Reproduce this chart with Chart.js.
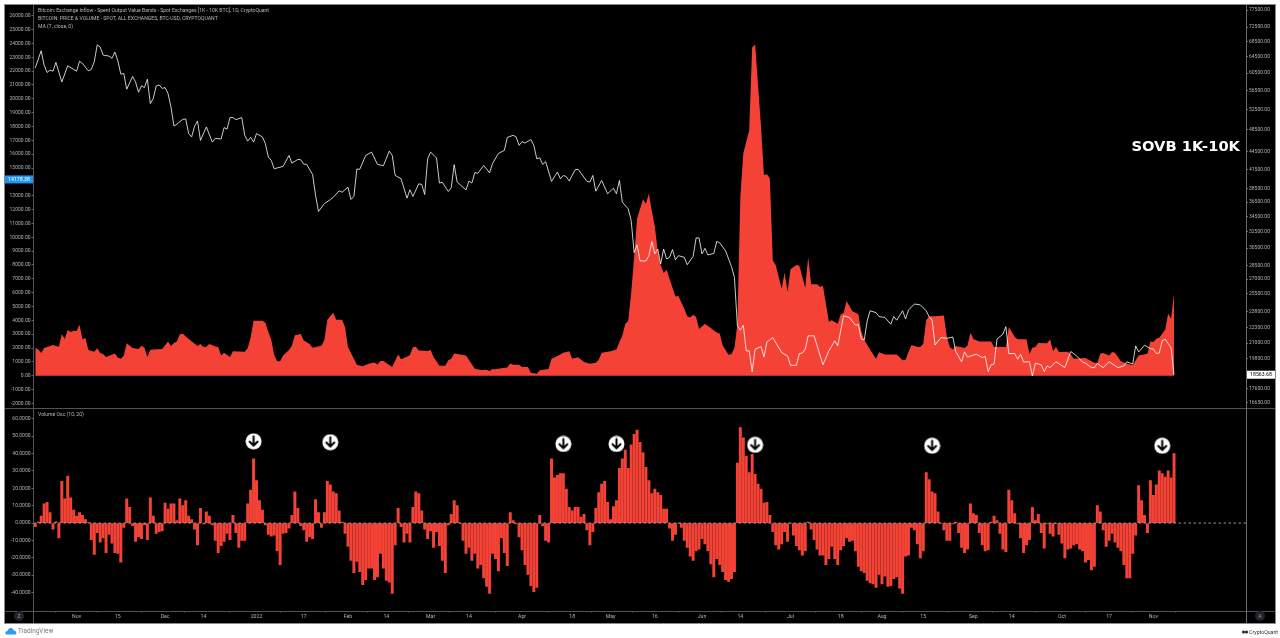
<!DOCTYPE html>
<html>
<head>
<meta charset="utf-8">
<title>SOVB 1K-10K</title>
<script src="https://cdn.jsdelivr.net/npm/chart.js@4"></script>
<style>
  html, body { margin: 0; padding: 0; background: #fff; width: 1280px; height: 638px; overflow: hidden; }
  body { position: relative; font-family: Roboto, sans-serif; }
  #frame { position: absolute; left: 4px; top: 4px; width: 1270px; height: 618px; background: #000; border: 1px solid #8a8a8a; }
  canvas { position: absolute; }
  .rule { position: absolute; background: #50535e; }
  .legend { position: absolute; left: 38px; color: #b8b8b8; font-size: 5.1px; line-height: 7px; white-space: nowrap; }
  #stamp { position: absolute; left: 1120px; width: 120px; top: 137px; text-align: right; color: #fff; font: bold 14.7px "DejaVu Sans", sans-serif; white-space: nowrap; }
  .scaleBtn { position: absolute; width: 10px; height: 10px; top: 611px; border-radius: 50%; background: #23242b; color: #999; font-size: 5px; line-height: 10px; text-align: center; }
  #tv { position: absolute; left: 18px; top: 627px; font-size: 6.4px; line-height: 8px; color: #777; }
  #cq { position: absolute; left: 1249px; top: 628px; font-size: 5.2px; line-height: 8px; color: #333; }
</style>
</head>
<body>
<div id="frame"></div>
<canvas id="pricePane" width="1270" height="404" style="left:5px;top:4px"></canvas>
<canvas id="oscPane" width="1270" height="215" style="left:5px;top:408px"></canvas>
<div class="rule" style="left:5px;top:407.5px;width:1270px;height:1px"></div>
<div class="rule" style="left:5px;top:610.5px;width:1270px;height:1px"></div>
<div class="rule" style="left:33px;top:5px;width:1px;height:618px"></div>
<div class="rule" style="left:1246px;top:5px;width:1px;height:618px;background:#6a6d78"></div>
<div class="legend" style="top:7px">Bitcoin: Exchange Inflow - Spent Output Value Bands - Spot Exchanges [1K - 10K BTC], 1D, CryptoQuant</div>
<div class="legend" style="top:15px">BITCOIN: PRICE &amp; VOLUME - SPOT, ALL EXCHANGES, BTC-USD, CRYPTOQUANT</div>
<div class="legend" style="top:23px">MA (7, close, 0)</div>
<div class="legend" style="top:411px">Volume Osc (10, 20)</div>
<div id="stamp">SOVB 1K-10K</div>
<div class="scaleBtn" style="left:14px">Z</div>
<div class="scaleBtn" style="left:1255px">A</div>
<svg style="position:absolute;left:5px;top:627px" width="12" height="8" viewBox="0 0 12 8"><path d="M1 7.5 C-0.5 5.5 1 4 2.5 4 C3 1.5 5 0.5 6.5 1 C8 1.5 8.5 2.5 8.5 3.5 C10.5 3.2 12 5.5 11 7.5 Z" fill="#2f9bea"/></svg>
<div id="tv">TradingView</div>
<svg style="position:absolute;left:1242px;top:630px" width="6" height="4"><circle cx="1.5" cy="2" r="1.5" fill="#222"/><circle cx="4.5" cy="2" r="1.5" fill="#222"/></svg>
<div id="cq">CryptoQuant</div>

<script>
// day 0 is 18 Oct 2021, every reading below is [day, value] off the picture
const timeTickDays = [14, 28, 44, 57, 75, 91, 106, 119, 134, 147, 165, 182, 195, 210, 226, 239, 256, 273, 287, 301, 318, 331, 348, 364, 379];
const timeTickLabels = ["Nov", "15", "Dec", "14", "2022", "17", "Feb", "14", "Mar", "14", "Apr", "18", "May", "16", "Jun", "14", "Jul", "18", "Aug", "15", "Sep", "14", "Oct", "17", "Nov"];

const inflowTicks = [26000, 25000, 24000, 23000, 22000, 21000, 20000, 19000, 18000, 17000, 16000, 15000, 13000, 12000, 11000, 10000, 9000, 8000, 7000, 6000, 5000, 4000, 3000, 2000, 1000, 0, -1000, -2000];
const priceTicks = [77500, 72500, 68500, 64500, 60500, 56500, 52500, 48500, 44500, 41500, 38500, 36500, 34500, 32500, 30500, 28500, 27000, 25500, 23800, 22300, 21000, 19800, 17600, 16650];
const oscTicks = [60, 50, 40, 30, 20, 10, 0, -10, -20, -30, -40];

const lastInflow = 14178.38;
const lastPrice = 18563.68;

const inflowReadings = [
  [0,2020],[1,1900],[2,1640],[3,2000],[5,2140],[6,2220],[8,2100],[9,3010],[10,2650],[11,3300],[12,3160],[13,3250],[14,3230],[15,3690],
  [16,2630],[17,2720],[18,1860],[20,1740],[21,1980],[22,1640],[23,1570],[24,1350],[27,1610],[28,1300],[29,1230],[30,1450],[31,2340],
  [33,2000],[35,1930],[36,2170],[37,2020],[38,1350],[39,1880],[43,1930],[45,2480],[46,2140],[47,2360],[48,2480],[49,2990],[50,3040],
  [52,2650],[55,2140],[56,2290],[57,2070],[58,2100],[59,2290],[61,2120],[62,2070],[63,1470],[64,1660],[66,1350],[67,1760],[71,1730],
  [72,1980],[73,2750],[74,3980],[77,3980],[78,3830],[79,3160],[80,2600],[81,1500],[82,1040],[83,1040],[84,1470],[86,1860],[87,2190],
  [88,2920],[90,3010],[91,2550],[93,2290],[94,2020],[97,2170],[98,2580],[99,4050],[100,4290],[101,4550],[102,4050],[104,4050],[105,3520],
  [106,2070],[108,1230],[109,800],[111,680],[113,870],[115,960],[116,820],[117,1060],[118,1060],[121,630],[123,1540],[124,1200],[126,1370],
  [127,1490],[128,2050],[129,2100],[130,1830],[133,1780],[134,1860],[135,1350],[137,720],[139,720],[140,1110],[141,1230],[142,1610],
  [146,1470],[149,510],[151,410],[153,430],[154,340],[155,480],[156,460],[158,550],[160,600],[161,890],[162,800],[164,800],[165,630],
  [167,630],[168,220],[170,140],[171,390],[174,480],[175,1230],[177,1420],[179,1660],[181,1760],[182,1230],[184,1330],[186,990],[188,870],
  [190,940],[191,1160],[192,1660],[195,1760],[197,1900],[198,2430],[199,2900],[200,3760],[201,3950],[202,6000],[203,8580],[204,11350],
  [206,12750],[207,12430],[208,13160],[209,11900],[210,10800],[211,9000],[212,8000],[213,7420],[214,7660],[215,7000],[216,6350],[217,5730],
  [218,5760],[220,4840],[221,4300],[222,4200],[223,4410],[224,4240],[225,3370],[227,3760],[231,3130],[232,3050],[233,2200],[235,1520],
  [236,1570],[237,2020],[238,3760],[239,12920],[240,16050],[242,17730],[243,23710],[244,23930],[245,21000],[246,18000],[247,14500],[248,14550],
  [249,14240],[250,8340],[251,7980],[253,6290],[254,7450],[255,6050],[256,7690],[258,8000],[259,7950],[261,6360],[262,8580],[263,6600],
  [265,6600],[266,6430],[267,6480],[268,5200],[269,3900],[270,4000],[272,3760],[273,4430],[274,4530],[275,5400],[277,4650],[279,4450],
  [280,3200],[281,2600],[283,1880],[285,1230],[286,1690],[288,1540],[292,1540],[294,1110],[295,1160],[296,1710],[297,2220],[299,2070],
  [300,2070],[301,2310],[302,4000],[303,4290],[305,4290],[308,4360],[309,2800],[310,2070],[311,1900],[312,2140],[315,2000],[316,2190],
  [317,3110],[318,2650],[320,2480],[324,2480],[325,2070],[329,2070],[330,3520],[332,2800],[333,2630],[336,2630],[337,1590],[338,2020],
  [339,2070],[340,2360],[343,2340],[344,2630],[345,1780],[346,2070],[347,1710],[350,1730],[351,1540],[352,1230],[356,1280],[359,940],
  [360,920],[361,1590],[362,1640],[364,1470],[365,1710],[366,1660],[368,1040],[370,870],[372,750],[374,1470],[377,1590],[378,2480],[379,2430],
  [380,2670],[381,2750],[383,3330],[384,4480],[385,4120],[386,5930]
];

const priceReadings = [
  [0,61780],[2,66060],[3,62450],[4,60680],[5,61230],[6,60990],[7,63120],[9,58470],[11,62280],[14,60990],[15,63370],[16,62860],[18,61060],
  [19,61400],[20,63280],[21,67630],[22,67030],[23,64950],[25,64700],[26,64120],[27,65710],[28,63500],[29,60280],[30,60450],[31,56830],
  [33,59740],[34,58470],[35,56160],[36,57570],[37,57190],[38,59100],[39,53710],[40,54770],[41,57570],[42,57790],[43,57000],[44,57190],
  [45,55870],[46,53010],[47,49200],[48,49530],[50,50500],[51,50570],[52,47750],[53,47130],[54,49140],[55,50170],[56,46500],[58,49010],
  [60,46190],[61,46870],[63,46750],[64,48890],[65,48600],[66,50850],[67,50850],[68,50440],[70,50850],[71,47430],[72,46370],[73,47060],
  [74,46190],[75,47750],[77,47130],[78,45900],[79,43550],[80,42990],[81,41610],[84,41990],[86,43840],[87,42530],[89,43150],[90,43100],
  [91,42370],[92,42320],[94,40690],[95,37500],[96,35200],[98,36310],[100,36850],[101,37210],[103,38160],[104,37950],[106,38710],[107,36890],
  [108,37320],[109,41560],[110,41520],[112,43840],[114,44410],[116,42320],[118,42100],[120,44590],[121,43840],[122,40530],[124,40000],
  [126,37080],[127,38310],[128,37320],[130,39230],[131,39120],[132,37620],[133,43260],[134,44410],[136,43430],[137,39340],[138,39450],
  [140,38060],[141,38610],[142,42280],[143,39500],[146,38300],[147,39650],[148,39340],[149,40990],[150,40870],[152,42150],[154,40940],
  [155,42480],[157,44180],[159,44710],[160,47040],[162,47430],[163,47130],[164,45600],[165,46270],[166,46020],[168,46650],[169,45600],
  [170,43260],[171,43430],[172,42320],[173,42770],[175,39600],[177,41080],[178,40000],[179,40530],[180,40340],[181,39650],[183,41440],
  [184,41520],[187,39600],[188,39500],[189,40530],[190,38110],[192,39740],[194,37730],[196,38550],[197,37730],[198,39740],[199,36490],
  [201,35550],[202,33960],[203,29950],[204,30880],[205,28990],[207,28990],[208,29600],[209,31270],[210,29800],[211,30380],[212,28650],
  [213,30380],[214,29220],[215,29400],[216,30310],[217,29120],[218,29600],[220,29400],[221,28570],[223,29520],[224,31730],[225,31730],
  [226,29800],[227,30460],[228,29680],[230,29860],[231,31300],[232,31130],[234,30150],[236,28350],[237,27180],[238,22480],[239,22100],
  [240,22540],[241,20380],[242,20380],[243,18790],[244,20520],[246,20720],[247,19900],[248,21100],[250,21470],[253,20250],[255,19980],
  [256,19260],[258,19260],[259,20170],[260,20210],[261,20520],[262,21620],[264,21620],[267,19300],[269,20380],[271,21200],[272,20780],
  [274,23380],[276,23230],[278,22540],[279,22600],[280,21350],[281,21270],[282,22930],[283,23850],[285,23680],[286,23320],[288,23230],
  [290,22630],[291,23320],[292,22990],[294,23850],[295,23100],[296,23920],[298,24490],[300,24410],[302,23850],[303,23290],[304,22990],
  [305,20860],[307,21470],[309,21410],[311,21520],[312,20330],[314,19530],[315,20300],[316,19900],[319,20120],[321,19850],[322,19950],
  [323,18790],[324,19300],[325,19350],[326,21350],[328,21760],[329,22410],[330,20170],[332,20170],[333,19720],[334,20120],[335,19510],
  [337,19530],[338,18470],[339,19420],[341,19300],[342,18790],[343,19210],[344,19090],[346,19530],[349,19090],[351,20330],[353,19980],
  [355,19510],[356,19420],[358,19090],[359,19090],[360,19400],[362,19090],[364,19530],[367,19090],[369,19210],[370,19530],[372,19350],
  [373,20780],[374,20300],[376,20840],[378,20560],[379,20520],[380,20170],[381,20210],[382,21200],[383,21350],[385,20610],[386,18560]
];

const oscValues = [
  -2,0.5,4,11,12,6,-3.5,0.7,-8.5,24,14,27,14.5,7.5,4,6,4.5,2,0.3,-9.5,
  -18,-5.5,-11,-8.5,-17,-6.5,-11.5,-17,-17.5,-22.5,-2.5,14,9,-1.5,-10.5,-8,-9,-1,-9.5,14.5,
  4,-6,-5,-4.5,11.5,8,11,11,1.5,14,10,13,4,2,-3.5,-12.5,8.5,-0.5,6.5,4,
  -1,-10,-17,-13,-10.5,-6,-9.5,4.5,-5.5,-14,-10,-10,11,19,37,24.5,13,7.5,-1,-6.5,
  -7.5,-7,-16,-24,-6,-5.5,-3,4.5,18,8.5,-1.5,-4,-10.5,-8,-9,13.5,6,-2.5,6,24,
  22,18,17,7,0.5,-6,-13.5,-21.5,-28.5,-22,-28,-35.5,-32.5,-26,-26,-32.5,-31,-17.5,-26,-33,
  -34,-40.5,-12.5,8.5,-2,-11,-6,-11,9,18,17,7,-3.5,-9,-4.5,-14,-5,-13,-21.5,-28.5,
  -1,5,13,10,0,-10,-17.5,-14,-21.5,-17.5,-26,-24,-31.5,-36.5,-40.5,-17.5,-20.5,-27.5,-8.5,-17,
  -24.5,6,1.5,-0.5,-8,-15.5,-24,-29.5,-36,-39.5,-37,4.5,-1.5,-10,-11,37,26,27.5,28.5,28.5,
  19.5,9,7,9,9,3.5,5,-4,-12.5,-5,8.5,17.5,22.5,24,12,2,9.5,13,31.5,37,
  42,31.5,45,51,53.5,46.5,40.5,32,24.5,17,19.5,17.5,16,8,8,-3,-10,-6.5,0,-2.5,
  -10,-14,-19,-21.5,-16,-15,-9,-12,-16,-23.5,-31,-20.5,-24,-28,-32.5,-33.5,-32,-28,34.5,55,
  49,38.5,29,39.5,28,22.5,19.5,11.5,12,4.5,-5,-12.5,-15,-12,-5,-10.5,0,-7,-13,-15.5,
  -18.5,-16,0.5,-3.5,-9.5,-15,-18.5,-18.5,-24,-20.5,-13.5,-20.5,-24,-15.5,-13,-8.5,-10.5,-10,-16,-25,
  -27.5,-28.5,-33,-34.5,-35,-37,-29.5,-35,-30.5,-36.5,-36,-32,-31,-37.5,-40.5,-19,-18.5,-2.5,-4,-12,
  -20,-16,29,25,18,17,6.5,0,-4,-10,-10,-0.5,0.5,-5.5,-14,-17,-15,11,5.5,4.5,
  -5.5,-12.5,-16,-15.5,0.5,4,1.5,-6,-15,-16.5,19,13,5.5,-0.5,-8.5,-17,-12.5,-9.5,9,1.5,
  5,-5.5,-14.5,-0.5,-6,-7.5,-0.2,-6.5,-11.5,-20,-15,-14.5,-12.5,-12,-15,-16,-22.5,-21,-27,-25,
  10,6.5,-4,-13.5,-10,-6,-11,-14,-16,-24,-31.5,-31.5,-17.5,-7,21.5,13,4.5,-5.5,24.5,16,
  22,30,28.5,26.5,30,26,40
];

// sell signal badges above the oscillator
const arrowDays = [74, 100, 179, 197, 244, 304, 382];
const arrowLevels = [47, 46.5, 45.5, 45.5, 45, 44.5, 44.5];

const RED = "#f44336";
const xMin = -0.6, xMax = 410.4;

function arrowBadge() {
  const c = document.createElement("canvas");
  c.width = 17; c.height = 17;
  const g = c.getContext("2d");
  g.fillStyle = "#fff";
  g.beginPath(); g.arc(8.5, 8.5, 8, 0, Math.PI * 2); g.fill();
  g.strokeStyle = "#000"; g.lineWidth = 2; g.lineCap = "round"; g.lineJoin = "round";
  g.beginPath(); g.moveTo(8.5, 3.5); g.lineTo(8.5, 12.5); g.moveTo(4.5, 8.8); g.lineTo(8.5, 12.8); g.lineTo(12.5, 8.8); g.stroke();
  return c;
}

const valueTags = {
  id: "valueTags",
  afterDraw(chart) {
    const g = chart.ctx;
    const tag = (text, x, w, y, bg, fg) => {
      g.save();
      g.fillStyle = bg;
      g.fillRect(x, y - 4, w, 8);
      g.fillStyle = fg;
      g.font = "5.2px Roboto";
      g.textAlign = "center";
      g.textBaseline = "middle";
      g.fillText(text, x + w / 2, y + 0.3);
      g.restore();
    };
    tag(lastInflow.toFixed(2), 0, 28, chart.scales.yInflow.getPixelForValue(lastInflow), "#2196f3", "#fff");
    tag(lastPrice.toFixed(2), chart.chartArea.right + 1, 28, chart.scales.yPrice.getPixelForValue(lastPrice), "#fff", "#000");
  }
};

const axisTicks = { color: "#b4b4b4", font: { family: "Roboto", size: 5 }, autoSkip: false, padding: 1 };
const axisGrid = { drawOnChartArea: false, drawTicks: true, tickLength: 2, tickColor: "#666" };

// the panes have to fill their canvas, chart.js otherwise keeps half a label free at each end
function fitY(width) {
  return a => { a.width = width; a.paddingTop = 0; a.paddingBottom = 0; };
}

new Chart(document.getElementById("pricePane"), {
  type: "line",
  plugins: [valueTags],
  data: {
    datasets: [
      {
        label: "BTC price",
        yAxisID: "yPrice",
        order: 0,
        data: priceReadings.map(r => ({ x: r[0], y: r[1] })),
        borderColor: "rgba(255,255,255,0.88)",
        borderWidth: 0.9,
        pointRadius: 0,
        tension: 0
      },
      {
        label: "Exchange inflow",
        yAxisID: "yInflow",
        order: 1,
        data: inflowReadings.map(r => ({ x: r[0], y: r[1] })),
        borderColor: RED,
        borderWidth: 0,
        backgroundColor: RED,
        fill: "origin",
        pointRadius: 0,
        tension: 0
      }
    ]
  },
  options: {
    responsive: false,
    animation: false,
    layout: { padding: 0, autoPadding: false },
    plugins: { legend: { display: false }, tooltip: { enabled: false } },
    scales: {
      x: { type: "linear", min: xMin, max: xMax, display: false },
      yInflow: {
        position: "left",
        min: -2330,
        max: 26850,
        afterFit: fitY(28.5),
        afterBuildTicks: a => { a.ticks = inflowTicks.map(v => ({ value: v })); },
        ticks: { ...axisTicks, callback: v => v.toFixed(2) },
        grid: axisGrid,
        border: { display: false }
      },
      yPrice: {
        type: "logarithmic",
        position: "right",
        min: 16294,
        max: 79350,
        afterFit: fitY(29),
        afterBuildTicks: a => { a.ticks = priceTicks.map(v => ({ value: v })); },
        ticks: { ...axisTicks, callback: v => v.toFixed(2) },
        grid: axisGrid,
        border: { display: false }
      }
    }
  }
});

new Chart(document.getElementById("oscPane"), {
  type: "bar",
  data: {
    datasets: [
      {
        type: "scatter",
        label: "Signals",
        order: 0,
        data: arrowDays.map((d, i) => ({ x: d, y: arrowLevels[i] })),
        pointStyle: arrowBadge(),
        pointRadius: 8
      },
      {
        type: "line",
        label: "Zero",
        order: 1,
        data: [{ x: xMin, y: 0 }, { x: xMax, y: 0 }],
        borderColor: "#bdbdbd",
        borderWidth: 0.8,
        borderDash: [2.5, 2.5],
        pointRadius: 0
      },
      {
        label: "Volume Osc",
        order: 2,
        data: oscValues.map((v, i) => ({ x: i, y: v })),
        backgroundColor: RED,
        barThickness: 2.3
      }
    ]
  },
  options: {
    responsive: false,
    animation: false,
    layout: { padding: { right: 29 }, autoPadding: false },
    plugins: { legend: { display: false }, tooltip: { enabled: false } },
    scales: {
      x: {
        type: "linear",
        min: xMin,
        max: xMax,
        offset: false,
        afterFit: a => { a.height = 12.5; a.paddingLeft = 0; a.paddingRight = 0; },
        afterBuildTicks: a => { a.ticks = timeTickDays.map(v => ({ value: v })); },
        ticks: {
          color: "#b4b4b4",
          font: { family: "Roboto", size: 5.2 },
          autoSkip: false,
          maxRotation: 0,
          padding: 1,
          callback: (v, i) => timeTickLabels[i]
        },
        grid: axisGrid,
        border: { display: false }
      },
      y: {
        position: "left",
        min: -50.3,
        max: 66.2,
        afterFit: fitY(28.5),
        afterBuildTicks: a => { a.ticks = oscTicks.map(v => ({ value: v })); },
        ticks: { ...axisTicks, callback: v => v.toFixed(4) },
        grid: axisGrid,
        border: { display: false }
      }
    }
  }
});
</script>
</body>
</html>
